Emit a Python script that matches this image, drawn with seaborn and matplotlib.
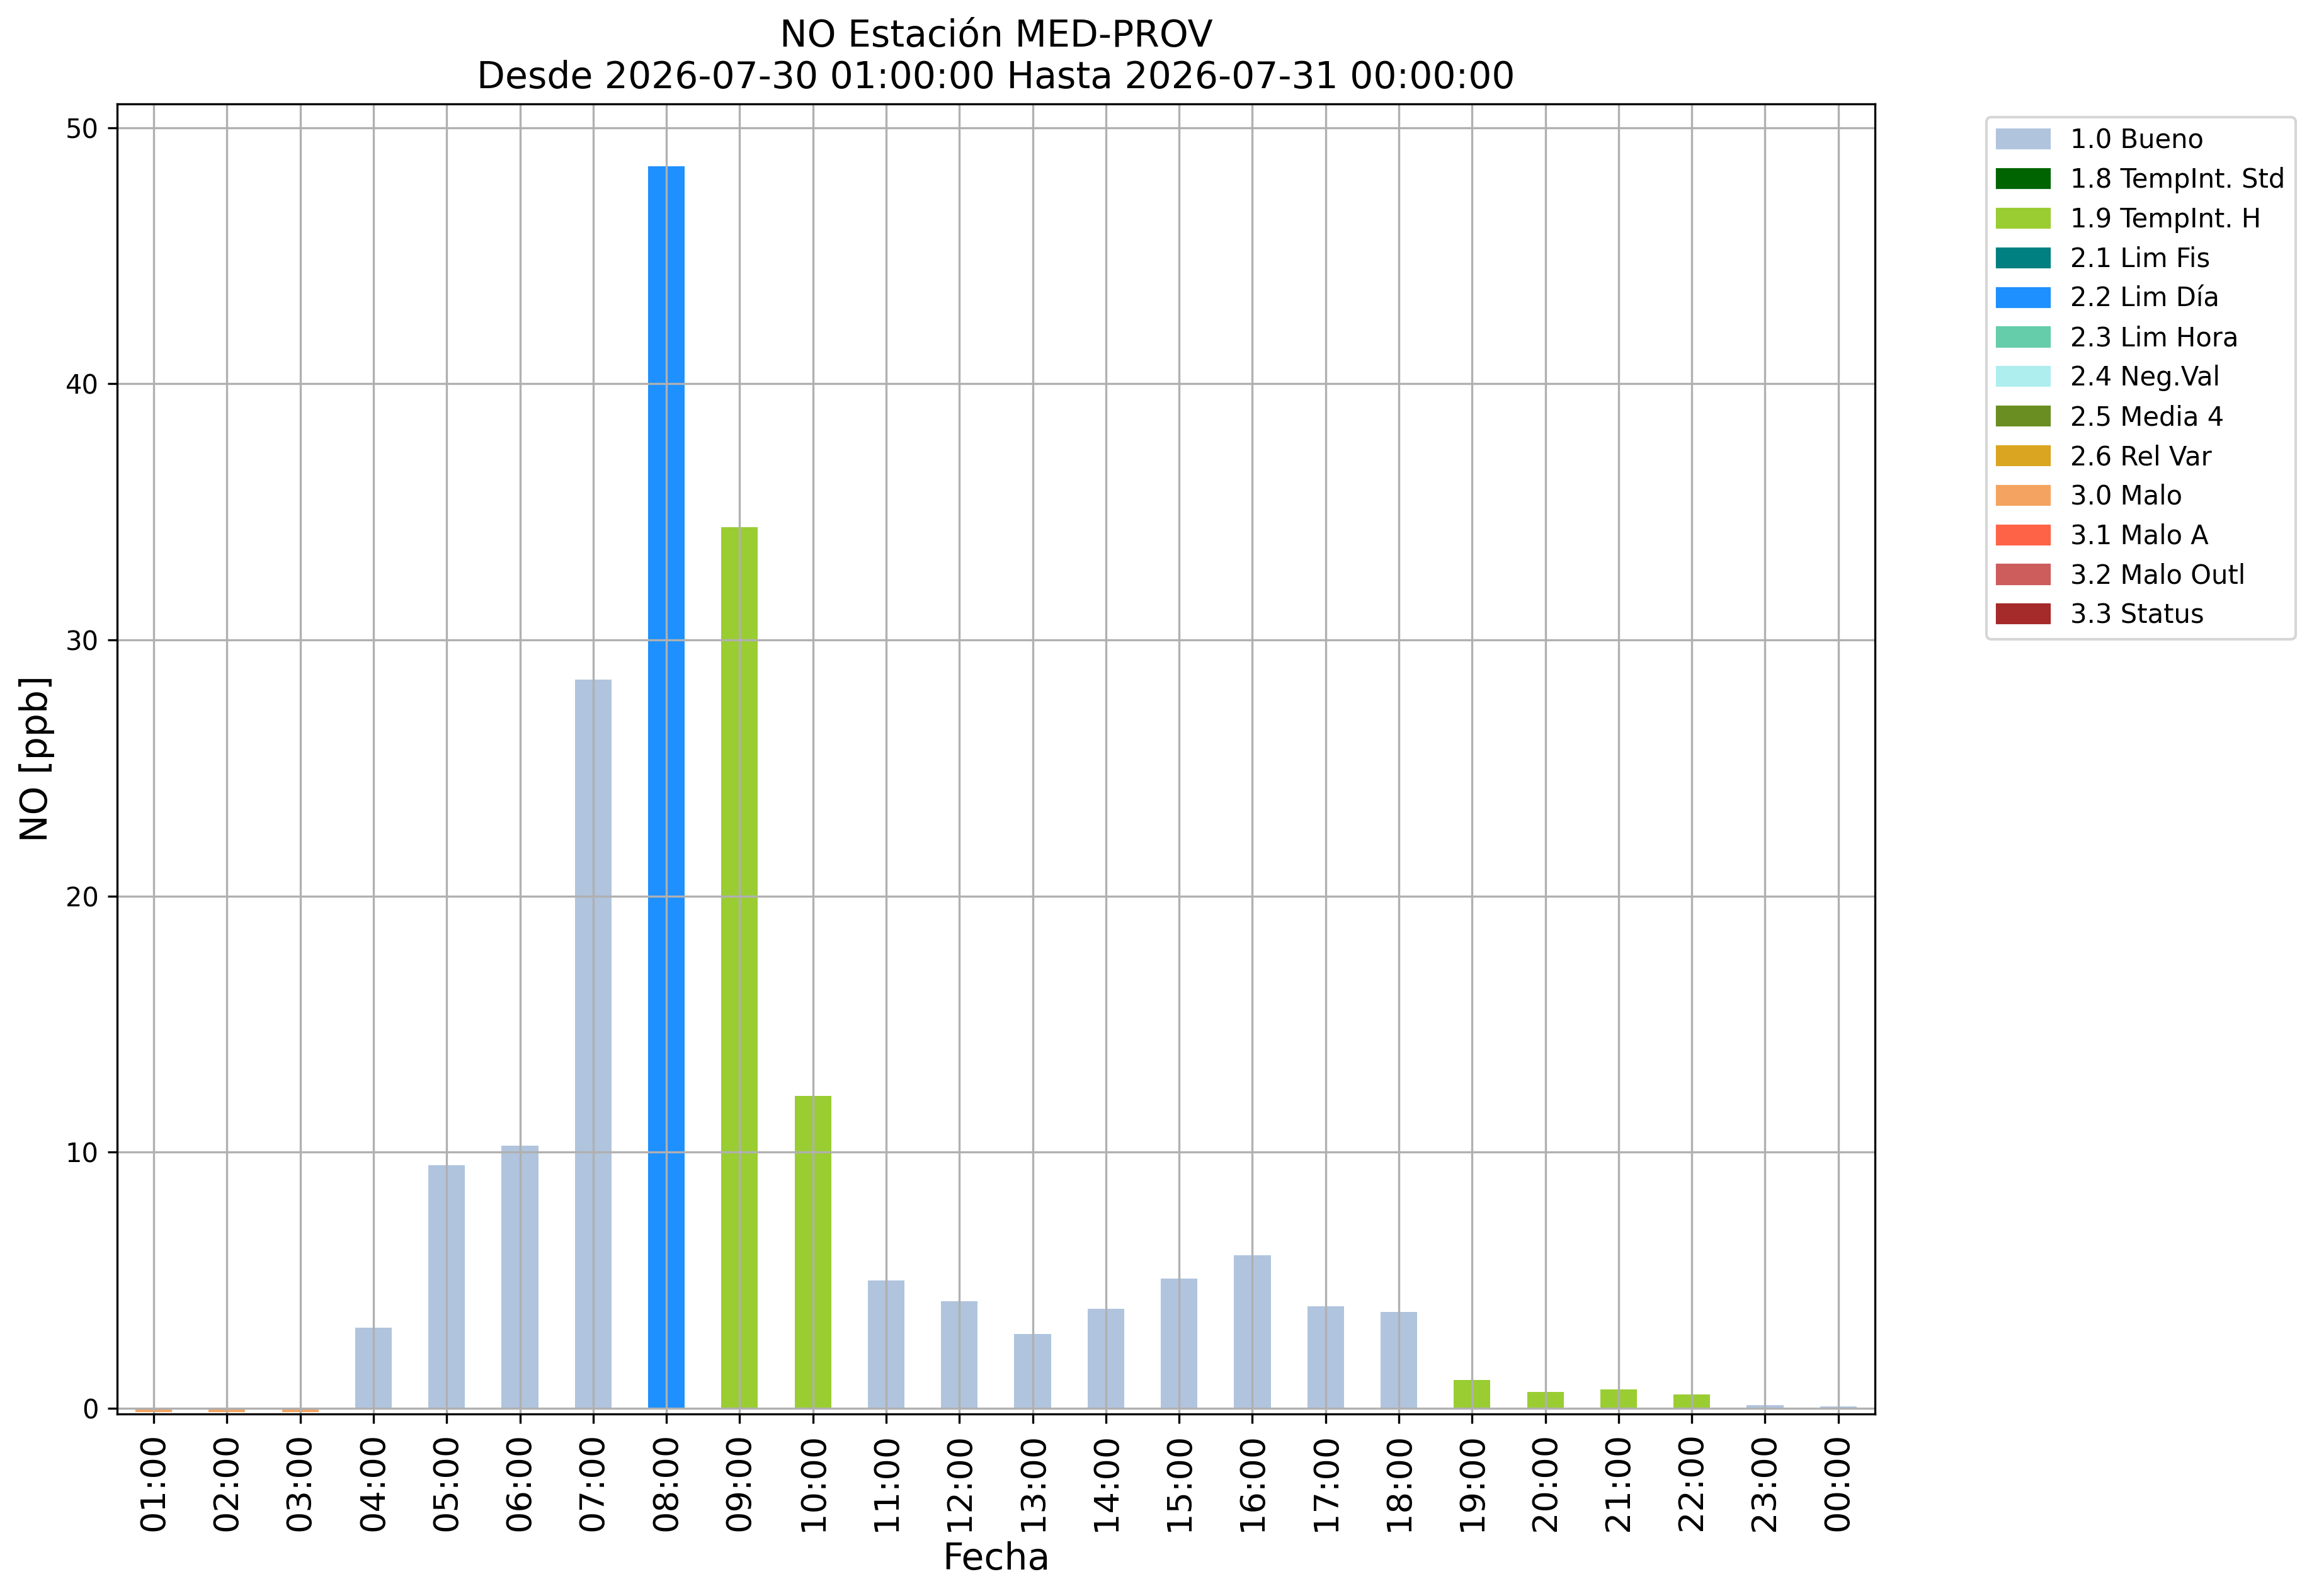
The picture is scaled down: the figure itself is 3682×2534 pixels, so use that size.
import pandas as pd
import matplotlib
matplotlib.use("Agg")
import matplotlib.pyplot as plt
from matplotlib.patches import Patch
import seaborn as sns

# Hourly NO values and their validation flags
horas = ["01:00", "02:00", "03:00", "04:00", "05:00", "06:00", "07:00", "08:00",
         "09:00", "10:00", "11:00", "12:00", "13:00", "14:00", "15:00", "16:00",
         "17:00", "18:00", "19:00", "20:00", "21:00", "22:00", "23:00", "00:00"]
valores = [-0.15, -0.15, -0.15, 3.15, 9.5, 10.25, 28.45, 48.5,
           34.4, 12.2, 5.0, 4.18, 2.9, 3.88, 5.08, 5.97,
           4.0, 3.76, 1.12, 0.64, 0.74, 0.54, 0.12, 0.09]
flags = ["3.0 Malo", "3.0 Malo", "3.0 Malo", "1.0 Bueno", "1.0 Bueno", "1.0 Bueno",
         "1.0 Bueno", "2.2 Lim Día", "1.9 TempInt. H", "1.9 TempInt. H", "1.0 Bueno",
         "1.0 Bueno", "1.0 Bueno", "1.0 Bueno", "1.0 Bueno", "1.0 Bueno", "1.0 Bueno",
         "1.0 Bueno", "1.9 TempInt. H", "1.9 TempInt. H", "1.9 TempInt. H",
         "1.9 TempInt. H", "1.0 Bueno", "1.0 Bueno"]

# All flag categories shown in the legend and their colours
categorias = ["1.0 Bueno", "1.8 TempInt. Std", "1.9 TempInt. H", "2.1 Lim Fis",
              "2.2 Lim Día", "2.3 Lim Hora", "2.4 Neg.Val", "2.5 Media 4",
              "2.6 Rel Var", "3.0 Malo", "3.1 Malo A", "3.2 Malo Outl", "3.3 Status"]
colores = ["lightsteelblue", "darkgreen", "yellowgreen", "teal", "dodgerblue",
           "mediumaquamarine", "paleturquoise", "olivedrab", "goldenrod",
           "sandybrown", "tomato", "indianred", "brown"]

df = pd.DataFrame({"Fecha": horas, "NO": valores, "flag": flags})
paleta = dict(zip(categorias, colores))

fig = plt.figure(figsize=(3682 / 300, 2534 / 300), dpi=300)
ax = fig.add_axes([0.0505, 0.1140, 0.7580, 0.8209])

sns.barplot(data=df, x="Fecha", y="NO", hue="flag", order=horas,
            hue_order=categorias, palette=paleta, dodge=False, width=0.5,
            saturation=1, errorbar=None, legend=False, ax=ax)

ax.grid(True)
ax.set_xlim(-0.5, len(horas) - 0.5)
ax.set_ylim(-0.22, 50.93)
ax.tick_params(axis="x", labelrotation=90, labelsize=13)
ax.tick_params(axis="y", labelsize=10)
ax.set_xlabel("Fecha", fontsize=14)
ax.set_ylabel("NO [ppb]", fontsize=14)
ax.set_title("NO Estación MED-PROV\nDesde 2026-07-30 01:00:00 Hasta 2026-07-31 00:00:00",
             fontsize=14)

# legend with every flag, even the ones not present in the data
handles = [Patch(color=paleta[c], label=c) for c in categorias]
ax.legend(handles=handles, loc="upper left", bbox_to_anchor=(1.056, 1), fontsize=10)

fig.savefig("out.png", dpi=300)
